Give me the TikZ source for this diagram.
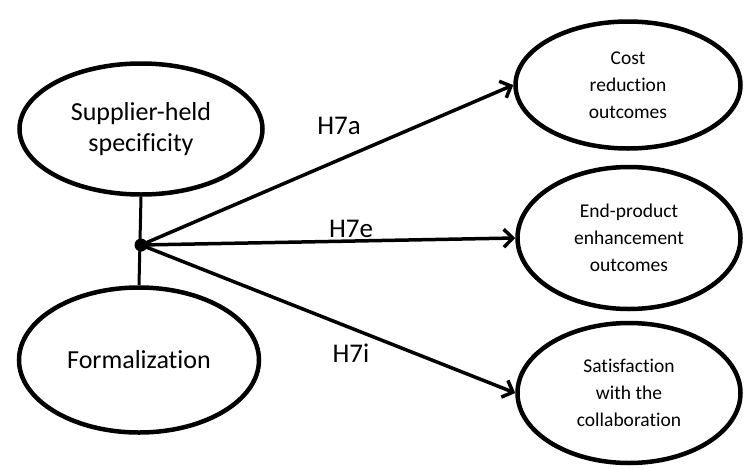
\documentclass[tikz,border=0pt]{standalone}
\usepackage{fontspec}
\setmainfont{Carlito}[Ligatures=NoCommon]
\usetikzlibrary{shapes.geometric,arrows.meta}
\begin{document}
\begin{tikzpicture}[x=1pt,y=-1pt,
  construct/.style={ellipse,draw,line width=4.5pt,inner sep=0pt,align=center},
  bigtext/.style={font=\fontsize{26}{31}\selectfont},
  smalltext/.style={font=\fontsize{19.5}{27}\selectfont},
  link/.style={line width=3.5pt,line cap=round,
    -{Straight Barb[length=9pt,width=18pt,line width=3.5pt]}},
  hyp/.style={font=\fontsize{27}{30}\selectfont}]
\useasboundingbox (0,0) rectangle (747,469);

% antecedents
\node[construct,bigtext,minimum width=243pt,minimum height=131pt] (shs) at (141,129)
  {Supplier-held\\specificity};
\node[construct,bigtext,minimum width=240pt,minimum height=145pt] (form) at (139,360)
  {Formalization};

% outcomes
\node[construct,smalltext,minimum width=225pt,minimum height=127pt] (cost) at (628,85)
  {Cost\\reduction\\outcomes};
\node[construct,smalltext,minimum width=223pt,minimum height=142pt] (endp) at (629,238)
  {End-product\\enhancement\\outcomes};
\node[construct,smalltext,minimum width=223pt,minimum height=140pt] (sat) at (629,393)
  {Satisfaction\\with the\\collaboration};

% interaction point
\node[circle,fill,inner sep=0pt,minimum size=13pt] (dot) at (141,245) {};
\draw[line width=3pt] (shs.south) -- (form.north);

% hypothesised paths
\draw[link] (dot.center) -- (cost.west);
\draw[link] (dot.center) -- (endp.west);
\draw[link] (dot.center) -- (sat.west);

\node[hyp] (h7a) at (339,126) {H7a};
\node[hyp] (h7e) at (351,229) {H7e};
\node[hyp] (h7i) at (351,353) {H7i};
\end{tikzpicture}
\end{document}
